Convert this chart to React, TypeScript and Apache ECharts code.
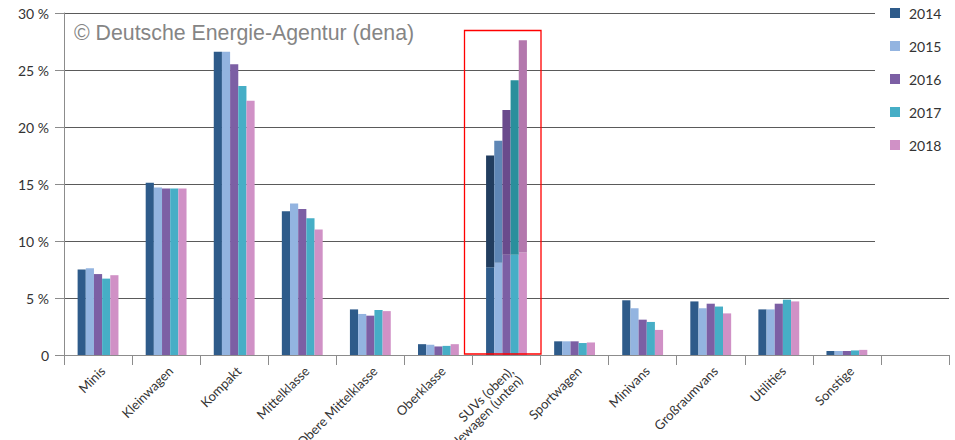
import React, { useEffect, useRef } from "react";
import * as echarts from "echarts";

const categories = [
  "Minis",
  "Kleinwagen",
  "Kompakt",
  "Mittelklasse",
  "Obere Mittelklasse",
  "Oberklasse",
  "SUVs (oben),\nGeländewagen (unten)",
  "Sportwagen",
  "Minivans",
  "Großraumvans",
  "Utilities",
  "Sonstige",
  "",
];

const years = ["2014", "2015", "2016", "2017", "2018"];

// base values (for SUV category: Geländewagen share, lower part)
const v2014 = [7.5, 15.1, 26.6, 12.6, 4.0, 0.95, 7.7, 1.2, 4.8, 4.7, 4.0, 0.35, null];
const v2015 = [7.6, 14.7, 26.6, 13.3, 3.6, 0.9, 8.1, 1.2, 4.1, 4.1, 4.0, 0.35, null];
const v2016 = [7.1, 14.6, 25.5, 12.8, 3.45, 0.75, 8.8, 1.2, 3.1, 4.5, 4.5, 0.35, null];
const v2017 = [6.7, 14.6, 23.6, 12.0, 3.95, 0.8, 8.8, 1.05, 2.9, 4.25, 4.85, 0.4, null];
const v2018 = [7.0, 14.6, 22.3, 11.0, 3.85, 0.95, 9.0, 1.1, 2.2, 3.65, 4.7, 0.45, null];

// SUV share (upper part, stacked on Geländewagen)
const suv2014 = [9.8];
const suv2015 = [10.7];
const suv2016 = [12.7];
const suv2017 = [15.3];
const suv2018 = [18.6];

const yTicks = [0, 5, 10, 15, 20, 25, 30];

const baseColors = ["#2e5b8a", "#93b4e0", "#7c5fa4", "#46aec6", "#d091c6"];
const topColors = ["#213d5f", "#5e86b5", "#6a4a8c", "#2a8f9c", "#b378ad"];

export default function App() {
  const ref = useRef<HTMLDivElement>(null);

  useEffect(() => {
    if (!ref.current) return;
    const chart = echarts.init(ref.current, null, { renderer: "svg" });
    const baseData = [v2014, v2015, v2016, v2017, v2018];
    const suvData = [suv2014, suv2015, suv2016, suv2017, suv2018];
    const suvIndex = 6;

    const series: any[] = [];
    years.forEach((y, i) => {
      series.push({
        name: y,
        type: "bar",
        stack: "s" + y,
        data: baseData[i],
        itemStyle: { color: baseColors[i] },
        barGap: "0%",
        barCategoryGap: "40%",
        z: 2,
      });
    });
    years.forEach((y, i) => {
      series.push({
        name: y + " SUV",
        type: "bar",
        stack: "s" + y,
        data: categories.map((_, c) => (c === suvIndex ? suvData[i][0] : null)),
        itemStyle: { color: topColors[i] },
        barGap: "0%",
        barCategoryGap: "40%",
        z: 2,
      });
    });

    chart.setOption({
      animation: false,
      textStyle: { fontFamily: "Lato" },
      grid: {
        left: 64,
        right: 6,
        top: 13,
        bottom: 85,
        containLabel: false,
        outerBoundsMode: "none",
      },
      legend: {
        data: years,
        orient: "vertical",
        left: 885,
        top: 0,
        itemWidth: 10,
        itemHeight: 10,
        itemGap: 17,
        icon: "rect",
        z: 5,
        textStyle: {
          fontFamily: "Lato",
          fontSize: 14,
          color: "#333",
          lineHeight: 16,
          padding: [0, 0, 0, 4],
        },
      },
      xAxis: {
        type: "category",
        data: categories,
        axisLine: { lineStyle: { color: "#8c8c8c", width: 1 } },
        axisTick: { show: true, length: 10, lineStyle: { color: "#8c8c8c" } },
        axisLabel: {
          rotate: 45,
          interval: 0,
          fontFamily: "Lato",
          fontSize: 13,
          color: "#333",
          margin: 9,
          verticalAlign: "top",
        },
      },
      yAxis: {
        type: "value",
        min: 0,
        max: 30,
        interval: 5,
        axisLine: { show: true, lineStyle: { color: "#8c8c8c" } },
        axisTick: { show: true, length: 9, lineStyle: { color: "#8c8c8c" } },
        splitLine: { show: true, lineStyle: { color: "#5a5a5a", width: 1 } },
        axisLabel: {
          fontFamily: "Lato",
          fontSize: 14,
          color: "#333",
          margin: 15,
          formatter: (v: number) => (yTicks.includes(v) ? (v === 0 ? "0" : v + " %") : ""),
        },
      },
      graphic: [
        {
          type: "rect",
          z: 1,
          shape: { x: 875, y: 0, width: 80, height: 265 },
          style: { fill: "#ffffff" },
        },
        {
          type: "text",
          z: 10,
          x: 74,
          y: 33,
          style: {
            text: "© Deutsche Energie-Agentur (dena)",
            font: "21.3px 'Liberation Sans', Arial, sans-serif",
            fill: "#858585",
            verticalAlign: "middle",
          },
        },
        {
          type: "rect",
          z: 10,
          shape: { x: 464.5, y: 30.5, width: 76.5, height: 323.5 },
          style: { fill: "none", stroke: "#ff0000", lineWidth: 1.3 },
        },
      ],
      series,
    });
    return () => chart.dispose();
  }, []);

  return <div ref={ref} style={{ width: 955, height: 440, position: "absolute", left: 0, top: 0 }} />;
}
